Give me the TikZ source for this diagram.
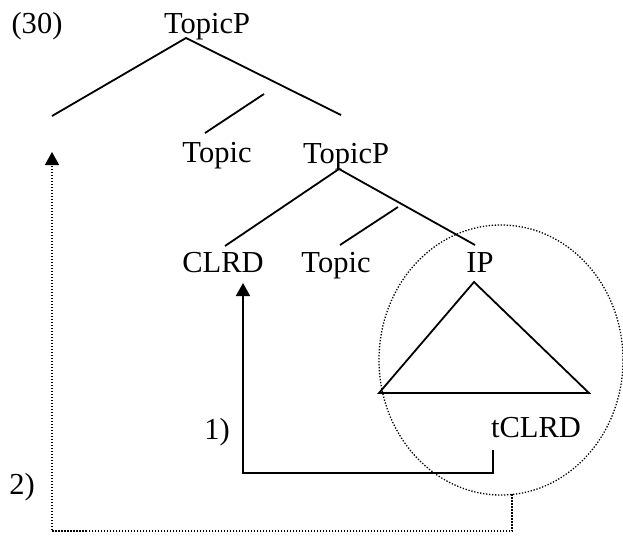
\documentclass[tikz,border=0pt]{standalone}
\usepackage{fontspec}
\setmainfont{Liberation Serif}
\usetikzlibrary{arrows.meta,shapes.geometric}
\begin{document}
\begin{tikzpicture}[x=1pt,y=-1pt,
  lbl/.style={anchor=base,inner sep=0pt,font=\fontsize{30.5}{35}\selectfont},
  branch/.style={line width=1.8pt},
  solidmove/.style={line width=1.8pt,-{Triangle[width=14pt,length=13pt]}},
  dotmove/.style={line width=1.5pt,dash pattern=on 1.5pt off 1.5pt,-{Triangle[width=14pt,length=13pt]}},
  ring/.style={line width=1.3pt,dash pattern=on 1.3pt off 1.7pt}]
\useasboundingbox (0,0) rectangle (623,536);
% labels
\node[lbl] (num) at (37,33) {(30)};
\node[lbl] (top) at (207,33) {TopicP};
\node[lbl] (topic1) at (217,162) {Topic};
\node[lbl] (tp2) at (346,163) {TopicP};
\node[lbl] (clrd) at (223,272) {CLRD};
\node[lbl] (topic2) at (336,272) {Topic};
\node[lbl] (ip) at (480,272) {IP};
\node[lbl] (trace) at (536,437) {tCLRD};
\node[lbl] (one) at (217,439) {1)};
\node[lbl] (two) at (22,494) {2)};
% tree points
\coordinate (a1) at (186,38);
\coordinate (spec1) at (52,116);
\coordinate (r1) at (341,115);
\coordinate (m1) at (264,94);
\coordinate (t1) at (205,133);
\coordinate (a2) at (339,169);
\coordinate (cl) at (225,246);
\coordinate (m2) at (398,207);
\coordinate (t2) at (340,245);
\coordinate (ipb) at (475,245);
\coordinate (tri1) at (474,282);
\coordinate (tri2) at (379,393);
\coordinate (tri3) at (589,393);
% branches
\draw[branch] (spec1) -- (a1) -- (r1);
\draw[branch] (m1) -- (t1);
\draw[branch] (cl) -- (a2) -- (ipb);
\draw[branch] (m2) -- (t2);
\draw[branch,line join=miter] (tri1) -- (tri2) -- (tri3) -- cycle;
% movement 1
\coordinate (s1) at (493,450);
\coordinate (c1a) at (493,473);
\coordinate (c1b) at (243,473);
\coordinate (e1) at (243,283);
\draw[solidmove] (s1) -- (c1a) -- (c1b) -- (e1);
% dotted circle
\node[ring,draw,ellipse,minimum width=244pt,minimum height=270pt,inner sep=0pt] (circ) at (501,360) {};
% movement 2
\coordinate (s2) at (512,494);
\coordinate (c2a) at (512,531);
\coordinate (c2b) at (52,531);
\coordinate (e2) at (52,152);
\draw[dotmove] (s2) -- (c2a) -- (c2b) -- (e2);
\end{tikzpicture}
\end{document}
